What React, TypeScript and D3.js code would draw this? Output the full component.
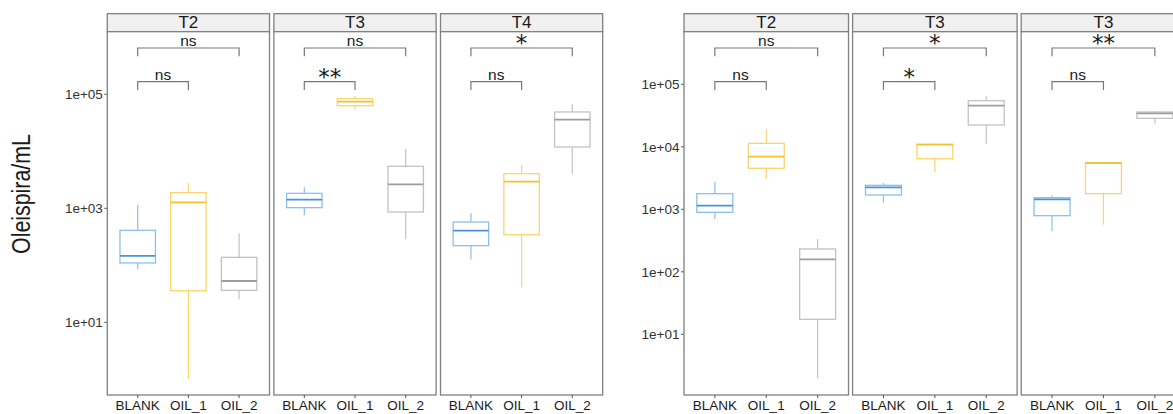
import React from "react";
import * as d3 from "d3";

// ---------------- data ----------------
const categories = ["BLANK", "OIL_1", "OIL_2"];

const leftFacets = ["T2", "T3", "T4"];
const rightFacets = ["T2", "T3", "T3"];

const leftTicks = [1e1, 1e3, 1e5];
const leftTickLabels = ["1e+01", "1e+03", "1e+05"];
const rightTicks = [1e1, 1e2, 1e3, 1e4, 1e5];
const rightTickLabels = ["1e+01", "1e+02", "1e+03", "1e+04", "1e+05"];

// five-number summaries per category: [lower whisker, q1, median, q3, upper whisker]
const leftT2 = [
  [85, 110, 146, 411, 1143],
  [1.01, 35.8, 1274, 1879, 2780],
  [25.3, 36.4, 53.1, 138, 364],
];
const leftT3 = [
  [753, 1026, 1416, 1832, 2333],
  [53700, 63100, 74100, 83800, 93300],
  [286, 861, 2636, 5458, 10965],
];
const leftT4 = [
  [127, 221, 405, 575, 817],
  [41.1, 344, 2931, 4046, 5754],
  [4046, 11885, 35800, 48980, 66830],
];
const rightT2 = [
  [692, 895, 1143, 1778, 2767],
  [3055, 4529, 6950, 11376, 19055],
  [1.98, 17.4, 158, 232, 335],
];
const rightT3a = [
  [1294, 1694, 2249, 2421, 2636],
  [3908, 6457, 10840, 10965, 11376],
  [11220, 22340, 45500, 54700, 64270],
];
const rightT3b = [
  [445, 791, 1445, 1535, 1652],
  [568, 1778, 5495, 5572, 5623],
  [23440, 28580, 34360, 36060, 37150],
];

const leftSigLower = ["ns", "**", "ns"];
const leftSigUpper = ["ns", "ns", "*"];
const rightSigLower = ["ns", "*", "ns"];
const rightSigUpper = ["ns", "*", "**"];

const yTitle = "Oleispira/mL";

// ---------------- styling ----------------
const COLORS: Record<string, { line: string; med: string }> = {
  BLANK: { line: "#8cc0ea", med: "#4a93d6" },
  OIL_1: { line: "#f9d56e", med: "#f2c230" },
  OIL_2: { line: "#c2c2c2", med: "#9e9e9e" },
};
const BORDER = "#808080";
const STRIP_TOP = 13.7;
const PANEL_TOP = 31.7;
const PANEL_BOTTOM = 395;
const SANS = "'Liberation Sans', Arial, sans-serif";
const DEJAVU = "'DejaVu Sans', sans-serif";

type GroupSpec = {
  facets: string[];
  boxes: number[][][];
  sigLower: string[];
  sigUpper: string[];
  ticks: number[];
  tickLabels: string[];
  domainExp: [number, number];
  left: number;
  panelW: number;
  gap: number;
};

function SigLabel({ x, y, text }: { x: number; y: number; text: string }) {
  if (text === "ns") {
    return (
      <text x={x} y={y} textAnchor="middle" fontFamily={SANS} fontSize={15.5} fill="#1a1a1a">
        {text}
      </text>
    );
  }
  return (
    <text x={x} y={y + 5} textAnchor="middle" fontFamily={DEJAVU} fontSize={23} fill="#1a1a1a">
      {text}
    </text>
  );
}

function Group({ spec }: { spec: GroupSpec }) {
  const y = d3
    .scaleLog()
    .domain([Math.pow(10, spec.domainExp[0]), Math.pow(10, spec.domainExp[1])])
    .range([PANEL_BOTTOM, PANEL_TOP]);
  const firstLeft = spec.left;
  return (
    <g>
      {spec.ticks.map((t, i) => (
        <g key={"t" + i}>
          <line x1={firstLeft - 3} x2={firstLeft} y1={y(t)} y2={y(t)} stroke="#555" strokeWidth={1} />
          <text
            x={firstLeft - 4.5}
            y={y(t)}
            dy="0.35em"
            textAnchor="end"
            fontFamily={SANS}
            fontSize={13.5}
            fill="#333"
          >
            {spec.tickLabels[i]}
          </text>
        </g>
      ))}
      {spec.facets.map((f, fi) => {
        const x0 = spec.left + fi * (spec.panelW + spec.gap);
        const x = d3
          .scalePoint<string>()
          .domain(categories)
          .range([x0, x0 + spec.panelW])
          .padding(0.6);
        const bw = x.step() * 0.7;
        const xa = x(categories[0]) as number;
        const xb = x(categories[1]) as number;
        const xc = x(categories[2]) as number;
        const upperY = PANEL_TOP + 16.3;
        const lowerY = PANEL_TOP + 50;
        const tickLen = 8.3;
        return (
          <g key={"p" + fi}>
            <rect
              x={x0}
              y={STRIP_TOP}
              width={spec.panelW}
              height={PANEL_TOP - STRIP_TOP}
              fill="#f0f0f0"
              stroke={BORDER}
              strokeWidth={1.3}
            />
            <text
              x={x0 + spec.panelW / 2}
              y={28.3}
              textAnchor="middle"
              fontFamily={SANS}
              fontSize={17}
              fill="#1a1a1a"
            >
              {f}
            </text>
            <rect
              x={x0}
              y={PANEL_TOP}
              width={spec.panelW}
              height={PANEL_BOTTOM - PANEL_TOP}
              fill="#fff"
              stroke={BORDER}
              strokeWidth={1.3}
            />
            {categories.map((c, ci) => {
              const s = spec.boxes[fi][ci];
              const cx = x(c) as number;
              const col = COLORS[c];
              return (
                <g key={c}>
                  <line x1={cx} x2={cx} y1={y(s[4])} y2={y(s[3])} stroke={col.line} strokeWidth={1.2} />
                  <line x1={cx} x2={cx} y1={y(s[1])} y2={y(s[0])} stroke={col.line} strokeWidth={1.2} />
                  <rect
                    x={cx - bw / 2}
                    y={y(s[3])}
                    width={bw}
                    height={Math.max(0.5, y(s[1]) - y(s[3]))}
                    fill="#fff"
                    stroke={col.line}
                    strokeWidth={1.3}
                  />
                  <line
                    x1={cx - bw / 2}
                    x2={cx + bw / 2}
                    y1={y(s[2])}
                    y2={y(s[2])}
                    stroke={col.med}
                    strokeWidth={1.8}
                  />
                </g>
              );
            })}
            <path
              d={`M${xa},${upperY + tickLen}V${upperY}H${xc}V${upperY + tickLen}`}
              fill="none"
              stroke="#777"
              strokeWidth={1.2}
            />
            <path
              d={`M${xa},${lowerY + tickLen}V${lowerY}H${xb}V${lowerY + tickLen}`}
              fill="none"
              stroke="#777"
              strokeWidth={1.2}
            />
            <SigLabel x={(xa + xc) / 2} y={upperY - 1.7} text={spec.sigUpper[fi]} />
            <SigLabel x={(xa + xb) / 2} y={lowerY - 1.7} text={spec.sigLower[fi]} />
            {categories.map((c) => (
              <g key={"x" + c}>
                <line
                  x1={x(c) as number}
                  x2={x(c) as number}
                  y1={PANEL_BOTTOM}
                  y2={PANEL_BOTTOM + 3}
                  stroke="#555"
                  strokeWidth={1}
                />
                <text
                  x={x(c) as number}
                  y={410}
                  textAnchor="middle"
                  fontFamily={SANS}
                  fontSize={13.5}
                  fill="#1a1a1a"
                >
                  {c}
                </text>
              </g>
            ))}
          </g>
        );
      })}
    </g>
  );
}

export default function App() {
  const leftSpec: GroupSpec = {
    facets: leftFacets,
    boxes: [leftT2, leftT3, leftT4],
    sigLower: leftSigLower,
    sigUpper: leftSigUpper,
    ticks: leftTicks,
    tickLabels: leftTickLabels,
    domainExp: [-0.275, 6.098],
    left: 107.3,
    panelW: 162.2,
    gap: 4.4,
  };
  const rightSpec: GroupSpec = {
    facets: rightFacets,
    boxes: [rightT2, rightT3a, rightT3b],
    sigLower: rightSigLower,
    sigUpper: rightSigUpper,
    ticks: rightTicks,
    tickLabels: rightTickLabels,
    domainExp: [0.029, 5.842],
    left: 684,
    panelW: 164.5,
    gap: 4.1,
  };
  return (
    <svg
      width={1173}
      height={414}
      style={{ position: "absolute", left: 0, top: 0, display: "block", background: "#fff" }}
    >
      <rect x={0} y={0} width={1173} height={414} fill="#fff" />
      <text
        transform="translate(29.5,194) rotate(-90)"
        textAnchor="middle"
        fontFamily={SANS}
        fontSize={26}
        textLength={120}
        lengthAdjust="spacingAndGlyphs"
        fill="#1a1a1a"
      >
        {yTitle}
      </text>
      <Group spec={leftSpec} />
      <Group spec={rightSpec} />
    </svg>
  );
}
